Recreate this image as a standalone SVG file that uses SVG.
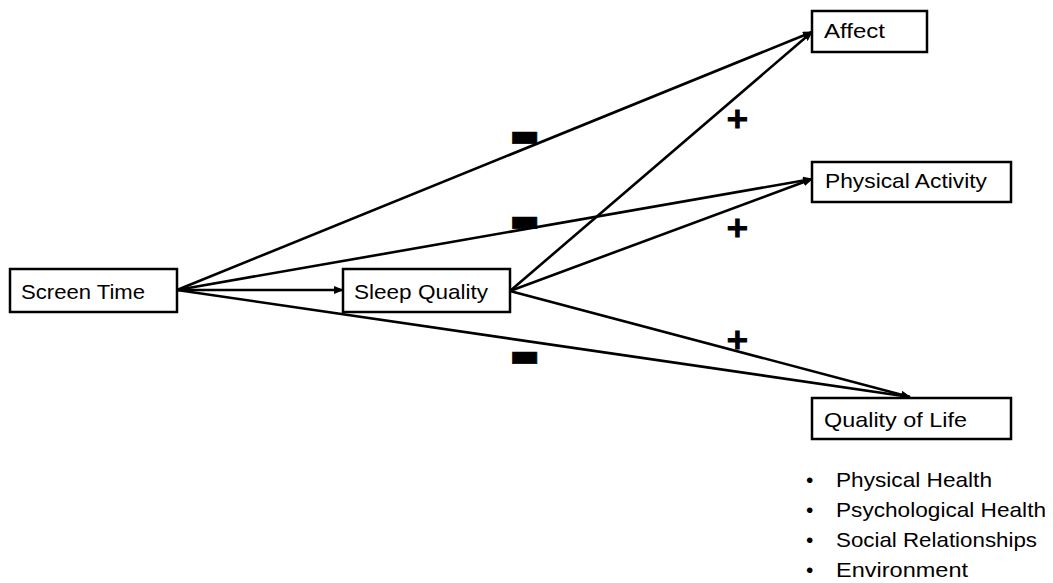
<svg xmlns="http://www.w3.org/2000/svg" width="1053" height="583" viewBox="0 0 1053 583">
  <style>
    .box { fill: #fff; stroke: #000; stroke-width: 2.5; }
    .lbl { font-family: "Liberation Sans", Arial, sans-serif; font-size: 21px; fill: #000; }
    .edge { stroke: #000; stroke-width: 2.6; fill: none; marker-end: url(#arr); }
    .sign { font-family: "DejaVu Sans", sans-serif; font-weight: bold; fill: #000; stroke: #000; text-anchor: middle; }
  </style>
  <defs>
    <marker id="arr" viewBox="0 0 10 8" refX="9" refY="4" markerWidth="10" markerHeight="8" markerUnits="userSpaceOnUse" orient="auto">
      <path d="M0,0 L10,4 L0,8 z" fill="#000"/>
    </marker>
  </defs>
  <rect width="1053" height="583" fill="#fff"/>

  <!-- paths between variables -->
  <g id="connectors">
    <line class="edge" x1="177" y1="290" x2="812" y2="32"/>
    <line class="edge" x1="177" y1="290" x2="812" y2="179"/>
    <line class="edge" x1="177" y1="290" x2="343" y2="290"/>
    <line class="edge" x1="177" y1="290" x2="910" y2="397"/>
    <line class="edge" x1="510" y1="291" x2="812" y2="32"/>
    <line class="edge" x1="510" y1="291" x2="812" y2="179"/>
    <line class="edge" x1="510" y1="291" x2="910" y2="397"/>
  </g>

  <!-- effect signs -->
  <g id="signs">
    <text class="sign" x="524.5" y="145.5" font-size="32" stroke-width="0.6">▬</text>
    <text class="sign" x="524.5" y="230.5" font-size="32" stroke-width="0.6">▬</text>
    <text class="sign" x="524.5" y="365.5" font-size="32" stroke-width="0.6">▬</text>
    <text class="sign" x="737.5" y="128" font-size="29" stroke-width="1.2">+</text>
    <text class="sign" x="737.5" y="237" font-size="29" stroke-width="1.2">+</text>
    <text class="sign" x="737.5" y="349" font-size="29" stroke-width="1.2">+</text>
  </g>

  <g id="screen-time">
    <rect class="box" x="10" y="269" width="167" height="43"/>
    <text class="lbl" x="21" y="299" textLength="124" lengthAdjust="spacingAndGlyphs">Screen Time</text>
  </g>
  <g id="sleep-quality">
    <rect class="box" x="343" y="269" width="167" height="43"/>
    <text class="lbl" x="354" y="299" textLength="134" lengthAdjust="spacingAndGlyphs">Sleep Quality</text>
  </g>
  <g id="affect">
    <rect class="box" x="812" y="11" width="115" height="41"/>
    <text class="lbl" x="824" y="38" textLength="61" lengthAdjust="spacingAndGlyphs">Affect</text>
  </g>
  <g id="physical-activity">
    <rect class="box" x="812" y="162" width="199" height="40"/>
    <text class="lbl" x="825" y="188" textLength="162" lengthAdjust="spacingAndGlyphs">Physical Activity</text>
  </g>
  <g id="quality-of-life">
    <rect class="box" x="812" y="398" width="199" height="41"/>
    <text class="lbl" x="824" y="427" textLength="143" lengthAdjust="spacingAndGlyphs">Quality of Life</text>
  </g>

  <!-- quality of life domains -->
  <g id="qol-domains" class="lbl">
    <text x="806" y="487">•</text>
    <text x="836" y="487" textLength="156" lengthAdjust="spacingAndGlyphs">Physical Health</text>
    <text x="806" y="517">•</text>
    <text x="836" y="517" textLength="210" lengthAdjust="spacingAndGlyphs">Psychological Health</text>
    <text x="806" y="547">•</text>
    <text x="836" y="547" textLength="201" lengthAdjust="spacingAndGlyphs">Social Relationships</text>
    <text x="806" y="577">•</text>
    <text x="836" y="577" textLength="132" lengthAdjust="spacingAndGlyphs">Environment</text>
  </g>
</svg>
